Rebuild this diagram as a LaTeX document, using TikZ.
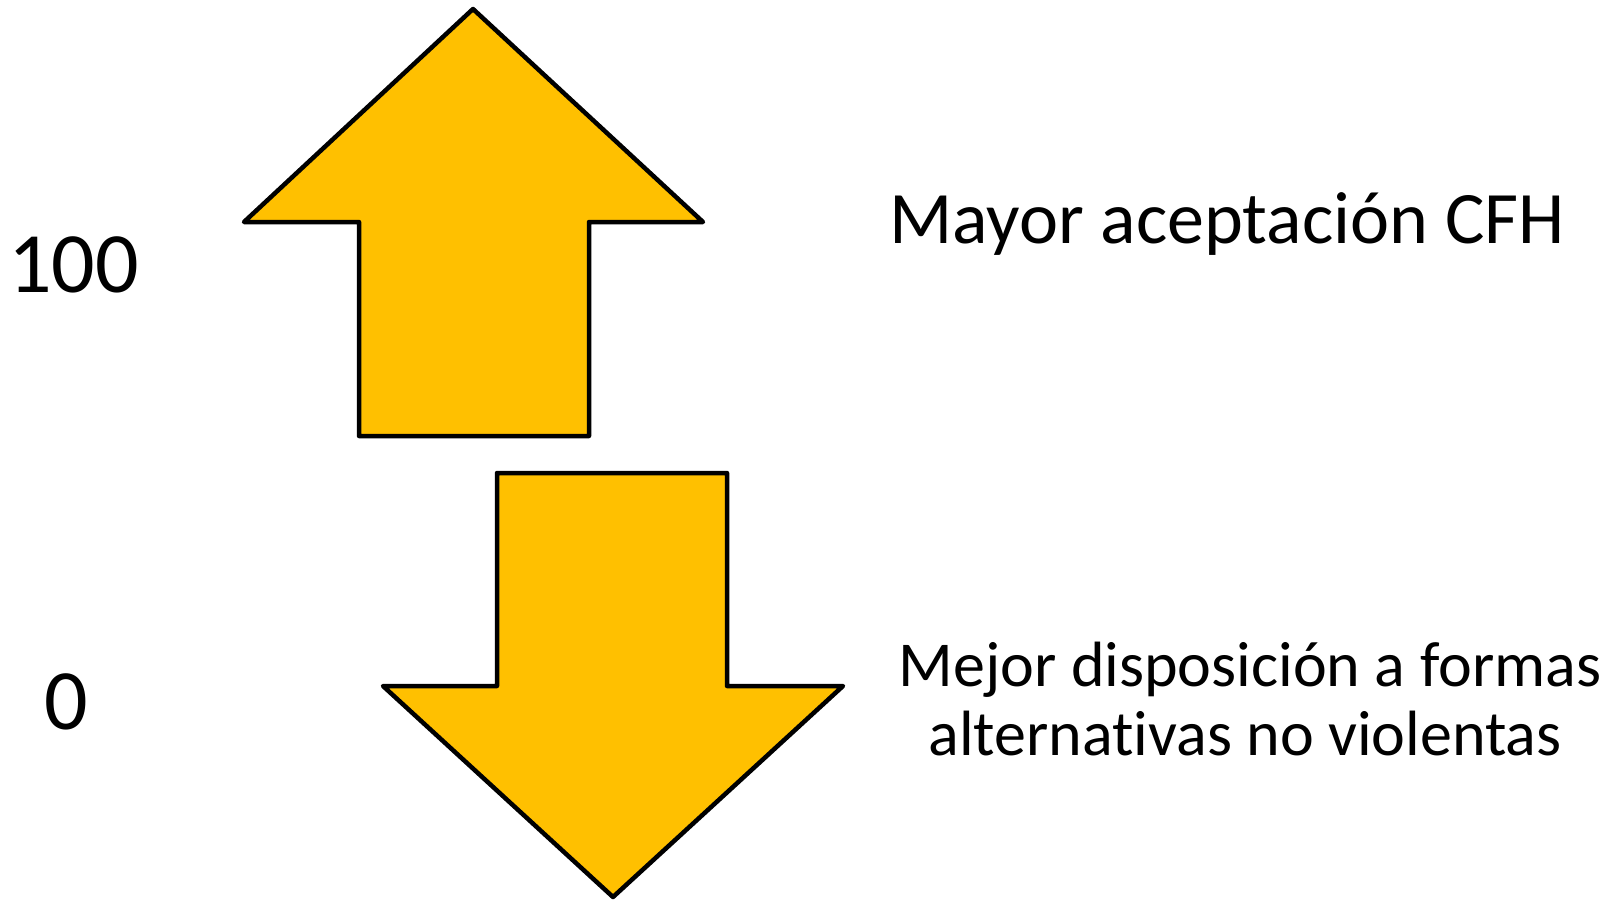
\documentclass[tikz,border=0pt]{standalone}
\usepackage{fontspec}
\setmainfont[Ligatures=NoCommon]{Carlito}
\definecolor{arrowfill}{HTML}{FFC000}
\tikzset{
  bigarrow/.style={draw=black, fill=arrowfill, line width=4.5pt, line join=round},
  label/.style={inner sep=0pt, text=black},
}
\begin{document}
\begin{tikzpicture}[x=1pt,y=-1pt]
\useasboundingbox (0,0) rectangle (1617,900);
% up arrow
\draw[bigarrow] (473,9) -- (703,222) -- (589,222) -- (589,436) -- (359,436) -- (359,222) -- (244,222) -- cycle;
% down arrow
\draw[bigarrow] (497,473) -- (727,473) -- (727,686) -- (843,686) -- (613,897) -- (383,686) -- (497,686) -- cycle;
\node[label, anchor=base west, font=\fontsize{86}{100}\selectfont] (hundred) at (8,292) {100};
\node[label, anchor=base west, font=\fontsize{86}{100}\selectfont] (zero) at (44,729) {0};
\node[label, anchor=base west, font=\fontsize{74}{88}\selectfont] (mayor) at (889,243) {Mayor aceptación CFH};
\node[label, anchor=base, font=\fontsize{64}{69}\selectfont] (mejor1) at (1250,686) {Mejor disposición a formas};
\node[label, anchor=base, font=\fontsize{64}{69}\selectfont] (mejor2) at (1245,755) {alternativas no violentas};
\end{tikzpicture}
\end{document}
